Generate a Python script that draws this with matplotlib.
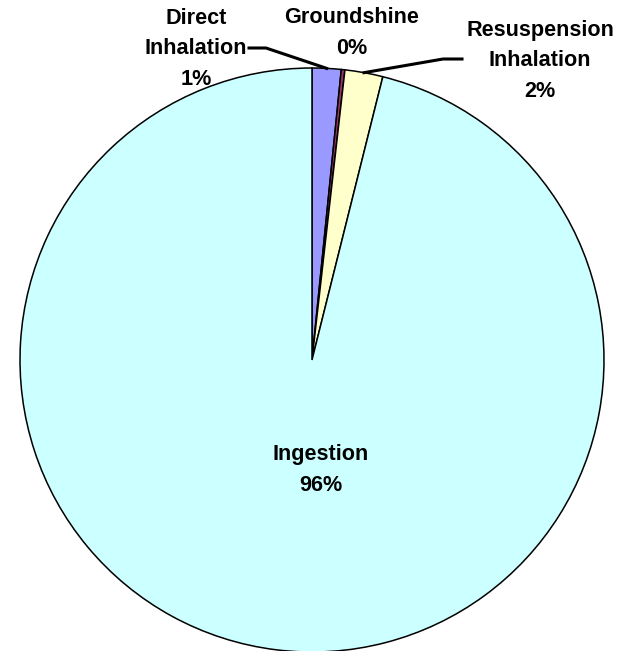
import numpy as np
import matplotlib.pyplot as plt

plt.rcParams['font.family'] = ['Liberation Sans', 'DejaVu Sans']

categories = ['Direct\nInhalation', 'Groundshine', 'Resuspension\nInhalation', 'Ingestion']
values = [1.6, 0.2, 2.1, 96.1]
pct_labels = ['1%', '0%', '2%', '96%']
colors = ['#9999FF', '#993366', '#FFFFCC', '#CCFFFF']

W, H = 625, 651
cx, cy, r = 312, H - 360, 292

fig = plt.figure(figsize=(W / 100, H / 100), dpi=100)
ax = fig.add_axes([0, 0, 1, 1])

wedges, _ = ax.pie(values, colors=colors, startangle=90, counterclock=False,
                   center=(cx, cy), radius=r,
                   wedgeprops=dict(edgecolor='black', linewidth=1.1))

# pie() resets the limits, so set them afterwards
ax.set_xlim(0, W)
ax.set_ylim(0, H)
ax.set_aspect('equal')
ax.axis('off')

def tip(w):
    ang = np.deg2rad((w.theta1 + w.theta2) / 2)
    return cx + r * np.cos(ang), cy + r * np.sin(ang)

fs = 15.6
kw = dict(fontsize=fs, fontweight='bold', ha='center', va='center', linespacing=1.6)

# Direct Inhalation
ax.text(196, H - 49, categories[0] + '\n' + pct_labels[0], **kw)
tx, ty = tip(wedges[0])
ax.plot([249, 266, tx], [H - 48, H - 48, ty], color='black', lw=2.2)

# Groundshine
ax.text(352, H - 33, categories[1] + '\n' + pct_labels[1], **kw)

# Resuspension Inhalation
ax.text(540, H - 61, categories[2] + '\n' + pct_labels[2], **kw)
tx, ty = tip(wedges[2])
ax.plot([tx, 443, 462], [ty, H - 59, H - 59], color='black', lw=2.2)

# Ingestion
ax.text(321, H - 470, categories[3] + '\n' + pct_labels[3], **kw)

fig.savefig('out.png', dpi=100)
